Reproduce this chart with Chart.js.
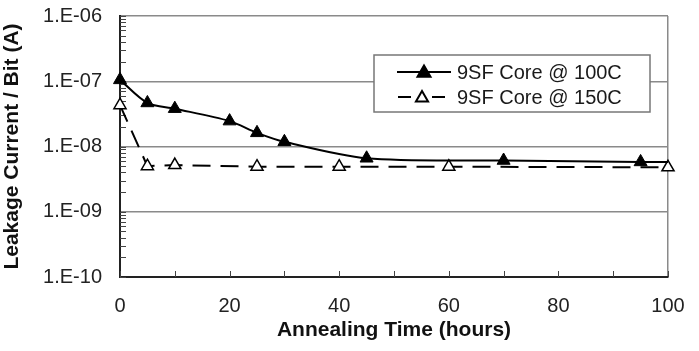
<!DOCTYPE html>
<html lang="en">
<head>
<meta charset="UTF-8">
<title>Leakage Current vs Annealing Time</title>
<script src="https://cdn.jsdelivr.net/npm/chart.js@4.4.0/dist/chart.umd.min.js"></script>
<style>
  html, body { margin: 0; padding: 0; background: #fff; }
  #wrap { width: 699px; height: 351px; }
</style>
</head>
<body>
<div id="wrap"><canvas id="leakChart" width="699" height="351"></canvas></div>
<script>
// 9SF Core @ 100C (last point only carries the line to the edge)
const hours100  = [0, 5, 10, 20, 25, 30, 45, 70, 95, 100];
const leak100   = [1.05e-7, 4.65e-8, 3.8e-8, 2.45e-8, 1.62e-8, 1.18e-8, 6.6e-9, 6.1e-9, 5.8e-9, 5.8e-9];
const marks100  = [1, 1, 1, 1, 1, 1, 1, 1, 1, 0];

// 9SF Core @ 150C
const hours150  = [0, 5, 10, 25, 40, 60, 100];
const leak150   = [4.3e-8, 5.0e-9, 5.2e-9, 4.9e-9, 4.9e-9, 4.9e-9, 4.8e-9];

const seriesNames = ['9SF Core @ 100C', '9SF Core @ 150C'];
const decades     = [1e-10, 1e-9, 1e-8, 1e-7, 1e-6];
const minorSteps  = [1, 2, 3, 4, 5, 6, 7, 8, 9];

const FONT = "'Liberation Sans', Arial, sans-serif";

function isDecade(v) {
    return decades.some(d => Math.abs(v / d - 1) < 1e-6);
}
function expLabel(v) {
    const e = Math.round(Math.log10(v));
    return '1.E' + (e < 0 ? '-' : '+') + String(Math.abs(e)).padStart(2, '0');
}

// small tick marks pointing into the plot, like the original
const innerTicks = {
    id: 'innerTicks',
    beforeDatasetsDraw(chart) {
        const ctx = chart.ctx;
        const a = chart.chartArea;
        const xs = chart.scales.x, ys = chart.scales.y;
        ctx.save();
        ctx.strokeStyle = '#444';
        ctx.lineWidth = 1;
        ctx.beginPath();
        ys.ticks.forEach(t => {
            const py = Math.round(ys.getPixelForValue(t.value)) + 0.5;
            ctx.moveTo(a.left, py); ctx.lineTo(a.left + 6, py);
        });
        xs.ticks.forEach(t => {
            const px = Math.round(xs.getPixelForValue(t.value)) + 0.5;
            ctx.moveTo(px, a.bottom); ctx.lineTo(px, a.bottom - 6);
        });
        ctx.stroke();
        ctx.restore();
    }
};

const legendBox = {
    id: 'legendBox',
    afterDatasetsDraw(chart) {
        const ctx = chart.ctx;
        const a = chart.chartArea;
        const x = a.left + 254, y = a.top + 39, w = 276, h = 57;
        ctx.save();
        ctx.setLineDash([]);
        ctx.fillStyle = '#fff';
        ctx.fillRect(x, y, w, h);
        ctx.strokeStyle = '#777';
        ctx.lineWidth = 1.5;
        ctx.strokeRect(x, y, w, h);

        chart.data.datasets.forEach((ds, i) => {
            const ry = y + 17 + i * 25;
            ctx.strokeStyle = ds.borderColor;
            ctx.lineWidth = ds.borderWidth;
            ctx.beginPath();
            if (ds.borderDash) {
                ctx.moveTo(x + 24, ry); ctx.lineTo(x + 37, ry);
                ctx.moveTo(x + 58, ry); ctx.lineTo(x + 71, ry);
            } else {
                ctx.moveTo(x + 23, ry); ctx.lineTo(x + 77, ry);
            }
            ctx.stroke();
            ctx.fillStyle = ds.pointBackgroundColor;
            ctx.strokeStyle = ds.pointBorderColor;
            Chart.helpers.drawPoint(ctx, {
                pointStyle: 'triangle', rotation: 0,
                radius: ds.borderDash ? 7 : 7.5,
                borderWidth: ds.pointBorderWidth
            }, x + (ds.borderDash ? 48 : 50), ry + 1);
            ctx.fillStyle = '#1a1a1a';
            ctx.font = '20px ' + FONT;
            ctx.textBaseline = 'middle';
            ctx.fillText(ds.label, x + 83, ry + 1);
        });
        ctx.restore();
    }
};

const ctx = document.getElementById('leakChart').getContext('2d');
new Chart(ctx, {
    type: 'line',
    data: {
        datasets: [{
            label: seriesNames[0],
            data: hours100.map((h, i) => ({ x: h, y: leak100[i] })),
            borderColor: '#000',
            borderWidth: 2,
            tension: 0.3,
            pointStyle: 'triangle',
            pointRadius: marks100.map(m => m ? 7.5 : 0),
            pointBackgroundColor: '#000',
            pointBorderColor: '#000',
            pointBorderWidth: 1,
            clip: false
        }, {
            label: seriesNames[1],
            data: hours150.map((h, i) => ({ x: h, y: leak150[i] })),
            borderColor: '#000',
            borderWidth: 2,
            borderDash: [18, 10],
            tension: 0,
            pointStyle: 'triangle',
            pointRadius: 7,
            pointBackgroundColor: '#fff',
            pointBorderColor: '#000',
            pointBorderWidth: 1.5,
            clip: false
        }]
    },
    options: {
        responsive: false,
        animation: false,
        layout: { padding: { top: 16, right: 31, left: 0, bottom: 0 } },
        plugins: {
            legend: { display: false },
            tooltip: { enabled: false }
        },
        scales: {
            x: {
                type: 'linear',
                min: 0, max: 100,
                afterFit: s => { s.height = 74; },
                border: { color: '#222', width: 2 },
                grid: {
                    color: c => c.tick && c.tick.value === 100 ? '#8a8a8a' : 'rgba(0,0,0,0)',
                    lineWidth: 1.5,
                    tickColor: 'rgba(0,0,0,0)',
                    tickLength: 17
                },
                ticks: {
                    stepSize: 10,
                    autoSkip: false,
                    maxRotation: 0,
                    padding: 0,
                    color: '#222',
                    font: { family: FONT, size: 20 },
                    callback: v => v % 20 === 0 ? String(v) : ''
                },
                title: {
                    display: true,
                    text: 'Annealing Time (hours)',
                    color: '#111',
                    font: { family: FONT, size: 21, weight: 'bold' },
                    padding: { top: 0, bottom: 8 }
                }
            },
            y: {
                type: 'logarithmic',
                min: 1e-10, max: 1e-6,
                afterBuildTicks: s => {
                    const t = [];
                    decades.forEach((d, i) => {
                        if (i === decades.length - 1) { t.push({ value: d, major: true }); return; }
                        minorSteps.forEach(k => t.push({ value: k * d, major: k === 1 }));
                    });
                    s.ticks = t;
                },
                afterFit: s => { s.width = 120; },
                border: { color: '#222', width: 2 },
                grid: {
                    color: c => c.tick && isDecade(c.tick.value) ? '#8a8a8a' : 'rgba(0,0,0,0)',
                    lineWidth: 1.5,
                    tickColor: 'rgba(0,0,0,0)',
                    tickLength: 18
                },
                ticks: {
                    autoSkip: false,
                    padding: 0,
                    color: '#222',
                    font: { family: FONT, size: 20 },
                    callback: v => isDecade(v) ? expLabel(v) : ''
                },
                title: {
                    display: true,
                    text: 'Leakage Current / Bit (A)',
                    color: '#111',
                    font: { family: FONT, size: 21, weight: 'bold' },
                    padding: { top: 0, bottom: 0 }
                }
            }
        }
    },
    plugins: [innerTicks, legendBox]
});
</script>
</body>
</html>
